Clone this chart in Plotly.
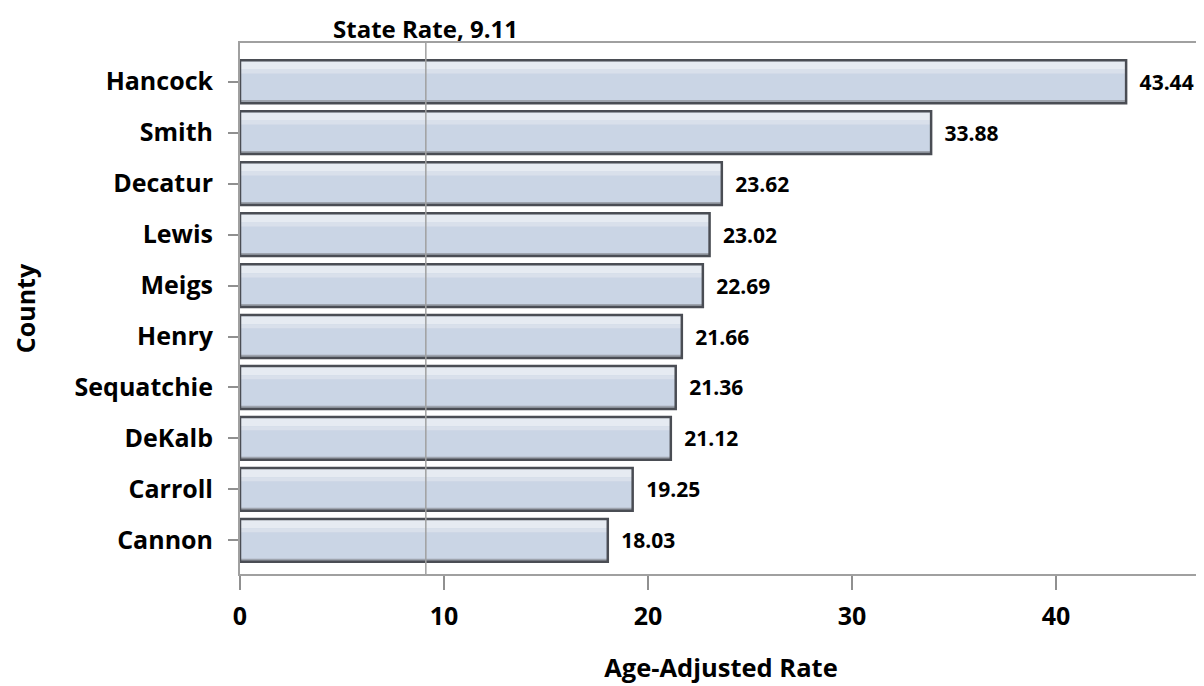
import plotly.graph_objects as go

counties = ["Hancock", "Smith", "Decatur", "Lewis", "Meigs", "Henry",
            "Sequatchie", "DeKalb", "Carroll", "Cannon"]
rates = [43.44, 33.88, 23.62, 23.02, 22.69, 21.66, 21.36, 21.12, 19.25, 18.03]
state_rate = 9.11
x_ticks = [0, 10, 20, 30, 40]

FONT = "Open Sans"
BAR_W = 0.84

fig = go.Figure()
# base fill
fig.add_trace(go.Bar(
    y=counties, x=rates, orientation="h", width=BAR_W,
    marker=dict(color="#cad5e5", line=dict(width=0)), hoverinfo="skip",
))
# light highlight band near top
fig.add_trace(go.Bar(
    y=counties, x=rates, orientation="h", width=0.16, offset=-0.40,
    marker=dict(color="#e6ebf2", line=dict(width=0)), hoverinfo="skip",
))
fig.add_trace(go.Bar(
    y=counties, x=rates, orientation="h", width=0.08, offset=-0.24,
    marker=dict(color="#d9e0eb", line=dict(width=0)), hoverinfo="skip",
))
# darker band near bottom
fig.add_trace(go.Bar(
    y=counties, x=rates, orientation="h", width=0.05, offset=0.36,
    marker=dict(color="#9ea4ae", line=dict(width=0)), hoverinfo="skip",
))
# outline + labels
fig.add_trace(go.Bar(
    y=counties, x=rates, orientation="h", width=BAR_W,
    marker=dict(color="rgba(0,0,0,0)", line=dict(color="#4a4d54", width=2.5)),
    text=[f"\u2002{v:.2f}" for v in rates],
    textposition="outside",
    textfont=dict(family=FONT, size=21, color="black", weight="bold"),
    cliponaxis=False,
    hoverinfo="skip",
))

fig.add_vline(x=state_rate, line=dict(color="#a0a0a0", width=1.5), layer="above")
fig.add_annotation(x=state_rate, xref="x", y=1.0, yref="paper",
                   text=f"State Rate, {state_rate}", showarrow=False,
                   yanchor="middle", yshift=15,
                   font=dict(family=FONT, size=24, color="black", weight="bold"))

fig.update_layout(
    width=1204, height=686,
    margin=dict(l=232, r=10, t=35, b=120, autoexpand=False),
    plot_bgcolor="white", paper_bgcolor="white",
    showlegend=False,
    barmode="overlay",
    font=dict(family=FONT, color="black"),
)
fig.update_xaxes(
    range=[0, 47.16], tickvals=x_ticks, automargin=False,
    ticks="outside", ticklen=14, tickcolor="#909090", tickwidth=1.5,
    ticklabelstandoff=5,
    showline=True, linecolor="#a0a0a0", linewidth=2, mirror=True,
    showgrid=False, zeroline=False,
    tickfont=dict(family=FONT, size=25, color="black", weight="bold"),
    title=dict(text="Age-Adjusted Rate", standoff=28,
               font=dict(family=FONT, size=25.5, color="black", weight="bold")),
)
fig.update_yaxes(
    categoryorder="array", categoryarray=counties, automargin=False,
    range=[9.66, -0.76],
    ticks="outside", ticklen=10, tickcolor="#909090", tickwidth=1.5,
    ticklabelstandoff=10,
    showline=True, linecolor="#a0a0a0", linewidth=2, mirror=True,
    showgrid=False,
    tickfont=dict(family=FONT, size=25, color="black", weight="bold"),
    title=dict(text="County", standoff=32,
               font=dict(family=FONT, size=25, color="black", weight="bold")),
)

fig.write_html("out.html")
